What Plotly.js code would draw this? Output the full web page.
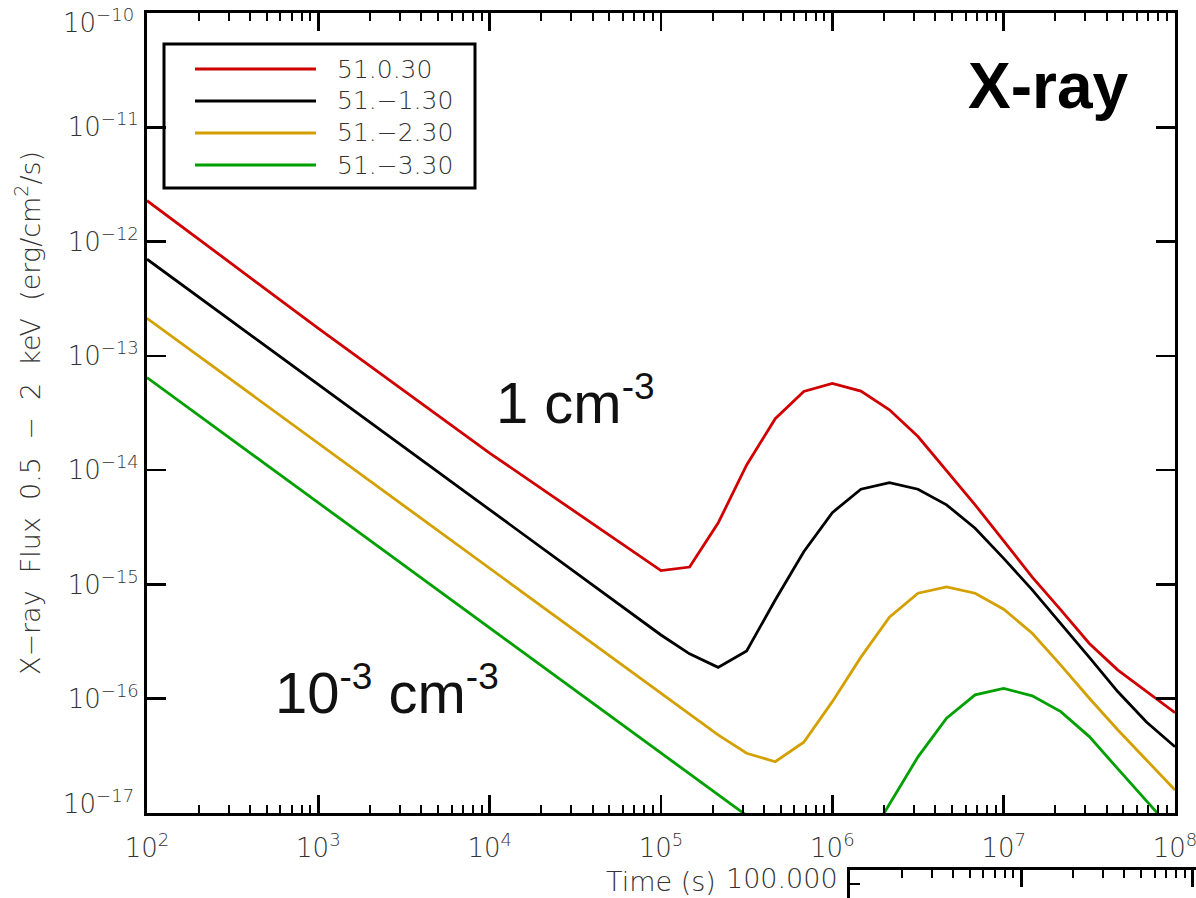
<!DOCTYPE html>
<html>
<head>
<meta charset="utf-8">
<script src="https://cdn.plot.ly/plotly-3.0.1.min.js"></script>
<style>html,body{margin:0;padding:0;background:#fff;}#chart{width:1196px;height:898px;}</style>
</head>
<body>
<div id="chart"></div>
<script>
// ---- data ----
const time = [1e2,1e3,1e4,1e5,1.468e5,2.154e5,3.162e5,4.642e5,6.813e5,1e6,1.468e6,2.154e6,3.162e6,4.642e6,6.813e6,1e7,1.468e7,2.154e7,3.162e7,4.642e7,6.813e7,1e8];
const flux_51_0_30 = [2.28e-12,1.74e-13,1.41e-14,1.32e-15,1.42e-15,3.44e-15,1.11e-14,2.82e-14,4.88e-14,5.73e-14,4.91e-14,3.37e-14,1.97e-14,1.00e-14,4.97e-15,2.40e-15,1.16e-15,5.98e-16,3.04e-16,1.78e-16,1.17e-16,7.55e-17];
const flux_51_m1_30 = [7.01e-13,5.62e-14,4.47e-15,3.61e-16,2.47e-16,1.88e-16,2.62e-16,7.31e-16,1.93e-15,4.25e-15,6.81e-15,7.78e-15,6.81e-15,4.97e-15,3.10e-15,1.69e-15,8.95e-16,4.56e-16,2.30e-16,1.15e-16,6.25e-17,3.80e-17];
const flux_51_m2_30 = [2.13e-13,1.72e-14,1.38e-15,1.12e-16,7.35e-17,4.82e-17,3.33e-17,2.81e-17,4.16e-17,9.42e-17,2.31e-16,5.16e-16,8.38e-16,9.51e-16,8.38e-16,6.07e-16,3.74e-16,1.97e-16,1.01e-16,5.32e-17,2.91e-17,1.59e-17];
const flux_51_m3_30 = [6.46e-14,5.18e-15,4.15e-16,3.33e-17,2.19e-17,1.45e-17,9.5e-18,null,null,null,4.6e-18,1.18e-17,3.10e-17,6.75e-17,1.08e-16,1.23e-16,1.06e-16,7.71e-17,4.66e-17,2.43e-17,1.27e-17,6.7e-18];

const seriesNames = ['51.0.30','51.\u22121.30','51.\u22122.30','51.\u22123.30'];
const seriesColors = ['#d00000','#000000','#d4a000','#00a000'];
const seriesData = [flux_51_0_30, flux_51_m1_30, flux_51_m2_30, flux_51_m3_30];

const xTickVals = [1e2,1e3,1e4,1e5,1e6,1e7,1e8];
const xTickExp = ['2','3','4','5','6','7','8'];
const yTickVals = [1e-17,1e-16,1e-15,1e-14,1e-13,1e-12,1e-11,1e-10];
const yTickExp = ['\u221217','\u221216','\u221215','\u221214','\u221213','\u221212','\u221211','\u221210'];

// ---- layout helpers ----
const W = 1196, H = 898;
const L = 147, T = 13;            // plot area starts here (extends to page edge)
const PW = W - L, PH = H - T;     // 1049 x 885
const px = v => (v - L) / PW;     // page pixel -> paper x
const py = v => (H - v) / PH;     // page pixel -> paper y

const FONT = 'DejaVu Sans, Liberation Sans, sans-serif';
const TXT = '#333333';

function minorVals(lo, hi){
  const out = [];
  for (let e = lo; e < hi; e++) for (let k = 2; k <= 9; k++) out.push(k * Math.pow(10, e));
  return out;
}

const traces = seriesData.map((d, i) => ({
  x: time, y: d, type: 'scatter', mode: 'lines', name: seriesNames[i],
  line: {color: seriesColors[i], width: 2.8}, showlegend: false, connectgaps: false,
  xaxis: 'x', yaxis: 'y'
}));
traces.push({x: [], y: [], type: 'scatter', mode: 'lines', xaxis: 'x2', yaxis: 'y2', showlegend: false});

const sup = s => '<sup><span style="font-size:18px">' + s + '</span></sup>';
const yLabel = e => '10' + sup(e);

const shapes = [];
const annotations = [];
// custom legend (long line samples)
shapes.push({type: 'rect', xref: 'paper', yref: 'paper', x0: px(164), x1: px(475), y0: py(188), y1: py(44),
  line: {color: '#000', width: 3}, fillcolor: 'rgba(0,0,0,0)'});
const rowY = [69, 101, 133, 165];
seriesNames.forEach((n, i) => {
  shapes.push({type: 'line', xref: 'paper', yref: 'paper', x0: px(195), x1: px(316), y0: py(rowY[i]), y1: py(rowY[i]),
    line: {color: seriesColors[i], width: 2.8}});
  annotations.push({xref: 'paper', yref: 'paper', x: px(335), y: py(rowY[i]), xanchor: 'left', yanchor: 'middle',
    text: n, showarrow: false, font: {family: FONT, size: 25, color: TXT, weight: 300}});
});
annotations.push({xref: 'paper', yref: 'paper', x: px(966), y: py(86), xanchor: 'left', yanchor: 'middle',
  text: '<b>X-ray</b>', showarrow: false, font: {family: 'Liberation Sans, Arial, sans-serif', size: 64, color: '#000'}});
annotations.push({xref: 'paper', yref: 'paper', x: px(494), y: py(400), xanchor: 'left', yanchor: 'middle',
  text: '1 cm<sup><span style="font-size:37px">-3</span></sup>', showarrow: false, font: {family: 'Liberation Sans, Arial, sans-serif', size: 58, color: '#111'}});
annotations.push({xref: 'paper', yref: 'paper', x: px(273), y: py(690), xanchor: 'left', yanchor: 'middle',
  text: '10<sup><span style="font-size:37px">-3</span></sup> cm<sup><span style="font-size:37px">-3</span></sup>', showarrow: false, font: {family: 'Liberation Sans, Arial, sans-serif', size: 58, color: '#111'}});
annotations.push({xref: 'paper', yref: 'paper', x: px(724), y: py(878), xanchor: 'left', yanchor: 'middle',
  text: '100.000', showarrow: false, font: {family: FONT, size: 27, color: TXT, weight: 300}});
// end labels of the y axis are nudged inward (as in the reference)
annotations.push({xref: 'paper', yref: 'paper', x: px(136), y: py(21), xanchor: 'right', yanchor: 'middle',
  text: yLabel(yTickExp[7]), showarrow: false, font: {family: FONT, size: 26, color: TXT, weight: 300}});
annotations.push({xref: 'paper', yref: 'paper', x: px(136), y: py(802), xanchor: 'right', yanchor: 'middle',
  text: yLabel(yTickExp[0]), showarrow: false, font: {family: FONT, size: 26, color: TXT, weight: 300}});

const tickFont = {family: FONT, size: 26, color: TXT, weight: 300};
const yTickText = yTickExp.map((e, i) => (i === 0 || i === yTickExp.length - 1) ? '' : yLabel(e));

const layout = {
  width: W, height: H,
  margin: {l: L, r: 0, t: T, b: 0, pad: 0},
  paper_bgcolor: '#fff', plot_bgcolor: 'rgba(0,0,0,0)',
  showlegend: false,
  xaxis: {
    type: 'log', range: [2, 8], domain: [0, px(1175)], anchor: 'y',
    showline: true, linewidth: 3, linecolor: '#000', mirror: 'ticks',
    ticks: 'inside', ticklen: 18, tickwidth: 2.5, tickcolor: '#000',
    tickmode: 'array', tickvals: xTickVals, ticktext: xTickExp.map(e => '10' + sup(e)),
    tickfont: tickFont, showgrid: false, zeroline: false, ticklabeloverflow: 'allow', ticklabelstandoff: 10,
    minor: {ticks: 'inside', ticklen: 8, tickwidth: 2, tickcolor: '#000', tickmode: 'array', tickvals: minorVals(2, 8), showgrid: false},
    title: {text: 'Time (s)', font: {family: FONT, size: 27, color: TXT, weight: 300}, standoff: 10}
  },
  yaxis: {
    type: 'log', range: [-17, -10], domain: [py(813), 1], anchor: 'x',
    showline: true, linewidth: 3, linecolor: '#000', mirror: 'ticks',
    ticks: 'inside', ticklen: 19, tickwidth: 2.5, tickcolor: '#000',
    tickmode: 'array', tickvals: yTickVals, ticktext: yTickText,
    tickfont: tickFont, showgrid: false, zeroline: false, ticklabeloverflow: 'allow',
    title: {text: 'X\u2212ray  Flux  0.5  \u2212  2  keV  (erg/cm<sup>2</sup>/s)', font: {family: FONT, size: 27, color: TXT, weight: 300}, standoff: 20}
  },
  xaxis2: {
    type: 'log', range: [2, 2 + (W - 850) / 171.33], domain: [px(850), 1], anchor: 'y2', side: 'top',
    showline: true, linewidth: 3, linecolor: '#000',
    ticks: 'inside', ticklen: 17, tickwidth: 2.5, tickcolor: '#000',
    tickmode: 'array', tickvals: [1e3, 1e4], showticklabels: false, showgrid: false, zeroline: false,
    minor: {ticks: 'inside', ticklen: 8, tickwidth: 2, tickcolor: '#000', tickmode: 'array', tickvals: minorVals(2, 4), showgrid: false}
  },
  yaxis2: {
    range: [0, 2], domain: [0, py(870)], anchor: 'x2',
    showline: true, linewidth: 3, linecolor: '#000',
    ticks: 'inside', ticklen: 10, tickwidth: 2.5, tickcolor: '#000',
    tickmode: 'array', tickvals: [0, 1, 2], showticklabels: false, showgrid: false, zeroline: false
  },
  shapes: shapes,
  annotations: annotations
};

Plotly.newPlot('chart', traces, layout, {displayModeBar: false, staticPlot: true});
</script>
</body>
</html>
